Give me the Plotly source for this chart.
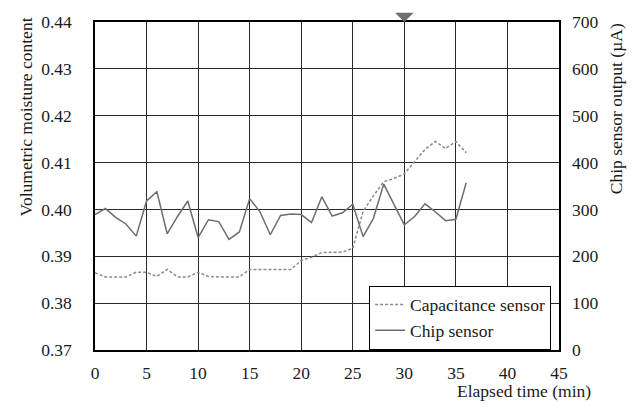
import plotly.graph_objects as go

# Elapsed time of each reading (min)
minutes = list(range(0, 37))

# Volumetric moisture content from the capacitance sensor
capacitance_vmc = [
    0.3865, 0.3856, 0.3856, 0.3856, 0.3866, 0.3866, 0.3857, 0.3872, 0.3856, 0.3856,
    0.3866, 0.3857, 0.3856, 0.3856, 0.3856, 0.3872, 0.3872, 0.3872, 0.3872, 0.3872,
    0.3891, 0.3898, 0.3908, 0.3908, 0.3909, 0.3917, 0.3996, 0.4029, 0.4059, 0.4066,
    0.4076, 0.4102, 0.4128, 0.4145, 0.4130, 0.4145, 0.4121,
]

# Output current of the chip sensor (uA)
chip_output_ua = [
    289, 302, 283, 269, 243, 318, 338, 248, 285, 318,
    240, 278, 274, 236, 252, 323, 295, 246, 287, 290,
    289, 272, 327, 286, 293, 311, 242, 281, 354, 311,
    267, 285, 312, 295, 276, 279, 357,
]

# Time at which the event is flagged above the plot (min)
event_minute = [30]

x_ticks = list(range(0, 50, 5))
vmc_ticks = [0.37, 0.38, 0.39, 0.40, 0.41, 0.42, 0.43, 0.44]
ua_ticks = [0, 100, 200, 300, 400, 500, 600, 700]

FONT = "Liberation Serif"
INK = "#1a1a1a"
GRID = "#2a2a2a"
TEXT = dict(family=FONT, size=17.5, color=INK)

fig = go.Figure()

fig.add_trace(go.Scatter(
    x=minutes, y=capacitance_vmc, name="Capacitance sensor",
    mode="lines", line=dict(color="#8a8a8a", width=1.5, dash="3px,2px"),
))
fig.add_trace(go.Scatter(
    x=minutes, y=chip_output_ua, name="Chip sensor", yaxis="y2",
    mode="lines", line=dict(color="#6e6e6e", width=1.5),
))

# downward pointer resting on the top frame at the event time
event_flags = [
    dict(x=t, y=vmc_ticks[-1], xref="x", yref="y", text="", showarrow=True,
         ax=0, ay=-9, arrowhead=1, arrowsize=3.1, arrowwidth=1,
         arrowcolor="#6f6f6f", standoff=0)
    for t in event_minute
]

titles = [
    dict(text="Volumetric moisture content", xref="paper", yref="paper",
         x=-0.1487, y=0.709, xanchor="center", yanchor="middle",
         textangle=-90, showarrow=False, font=TEXT),
    dict(text="Chip sensor output (\u00b5A)", xref="paper", yref="paper",
         x=1.1228, y=0.737, xanchor="center", yanchor="middle",
         textangle=-90, showarrow=False, font=TEXT),
    dict(text="Elapsed time (min)", xref="paper", yref="paper",
         x=1.0722, y=-0.1246, xanchor="right", yanchor="middle",
         showarrow=False, font=TEXT),
]

fig.update_layout(
    width=637, height=405,
    margin=dict(l=95, r=78, t=13, b=55),
    paper_bgcolor="white", plot_bgcolor="white",
    font=TEXT,
    showlegend=True,
    legend=dict(
        x=0.983, y=0.196, xanchor="right", yanchor="top",
        bgcolor="white", bordercolor="black", borderwidth=1,
        font=dict(family=FONT, size=17.5, color=INK),
        itemwidth=30, tracegroupgap=0,
    ),
    xaxis=dict(
        range=[0, 45], tickmode="array", tickvals=x_ticks,
        ticks="", ticklabelstandoff=6, tickfont=TEXT,
        showgrid=True, gridcolor=GRID, gridwidth=1,
        showline=True, linecolor="black", linewidth=1.5, mirror=True,
        zeroline=False,
    ),
    yaxis=dict(
        range=[vmc_ticks[0], vmc_ticks[-1]], tickmode="array", tickvals=vmc_ticks,
        tickformat=".2f", ticks="", ticklabelstandoff=18, tickfont=TEXT,
        showgrid=True, gridcolor=GRID, gridwidth=1,
        showline=True, linecolor="black", linewidth=1.5, mirror=True,
        zeroline=False,
    ),
    yaxis2=dict(
        range=[ua_ticks[0], ua_ticks[-1]], tickmode="array", tickvals=ua_ticks,
        overlaying="y", side="right", ticks="", ticklabelstandoff=12, tickfont=TEXT,
        showgrid=False, zeroline=False, showline=False,
    ),
    annotations=event_flags + titles,
)

fig.write_html("out.html")
